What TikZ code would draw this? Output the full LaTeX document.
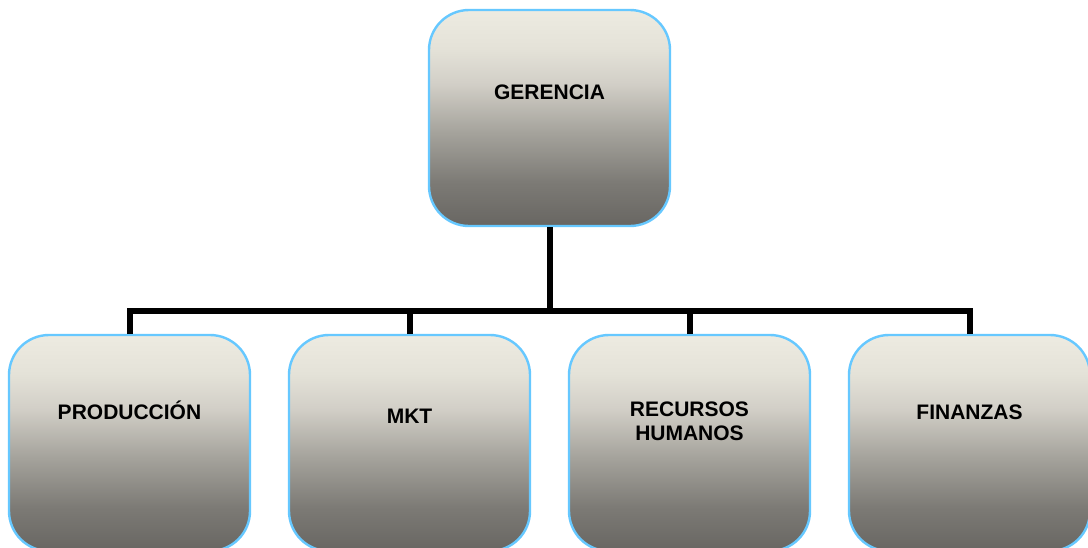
\documentclass[tikz,border=0pt]{standalone}
\usepackage{fontspec}
\setmainfont{Liberation Sans}
\definecolor{boxedge}{RGB}{102,200,255}
% vertical fill of the unit boxes: the box spans 25bp (bottom) to 75bp (top)
\pgfdeclareverticalshading{unitshade}{100bp}{%
  color(0bp)=(rgb,255:red,104;green,102;blue,98);
  color(25bp)=(rgb,255:red,104;green,102;blue,98);
  color(35bp)=(rgb,255:red,124;green,122;blue,117);
  color(47bp)=(rgb,255:red,166;green,164;blue,157);
  color(58bp)=(rgb,255:red,210;green,207;blue,199);
  color(66bp)=(rgb,255:red,228;green,226;blue,216);
  color(75bp)=(rgb,255:red,237;green,235;blue,225);
  color(100bp)=(rgb,255:red,237;green,235;blue,225)}
\tikzset{
  unitbox/.style={draw=boxedge, line width=2.4pt, rounded corners=40pt,
    minimum width=241pt, minimum height=216pt, inner sep=0pt,
    shading=unitshade},
  boxtext/.style={font=\fontsize{21}{24.5}\selectfont\bfseries, text=black,
    inner sep=0pt, align=center},
  wire/.style={line width=6pt, black, line join=miter}
}
\begin{document}
\begin{tikzpicture}[x=1pt, y=-1pt]
  \useasboundingbox (0,0) rectangle (1088,547);
  \clip (0,0) rectangle (1088,547);
  \fill[white] (0,0) rectangle (1088,547);

  \coordinate (bus) at (549.5,311);

  % boxes
  \node[unitbox] (ger)  at (549.5,118) {};
  \node[unitbox] (prod) at (129.5,443) {};
  \node[unitbox] (mkt)  at (409.5,443) {};
  \node[unitbox] (rrhh) at (689.5,443) {};
  \node[unitbox] (fin)  at (969.5,443) {};

  % connectors
  \draw[wire] (ger.south) -- (bus);
  \draw[wire] (prod.north) -- (prod.north |- bus) -- (fin.north |- bus) -- (fin.north);
  \draw[wire] (mkt.north) -- (mkt.north |- bus);
  \draw[wire] (rrhh.north) -- (rrhh.north |- bus);

  % labels
  \node[boxtext, anchor=base] (tger)  at (549.5,99)  {GERENCIA};
  \node[boxtext, anchor=base] (tprod) at (129.5,419) {PRODUCCIÓN};
  \node[boxtext, anchor=base] (tmkt)  at (409.5,423) {MKT};
  \node[boxtext] (trrhh) at (689.5,421.2) {RECURSOS\\HUMANOS};
  \node[boxtext, anchor=base] (tfin)  at (969.5,419) {FINANZAS};
\end{tikzpicture}
\end{document}
